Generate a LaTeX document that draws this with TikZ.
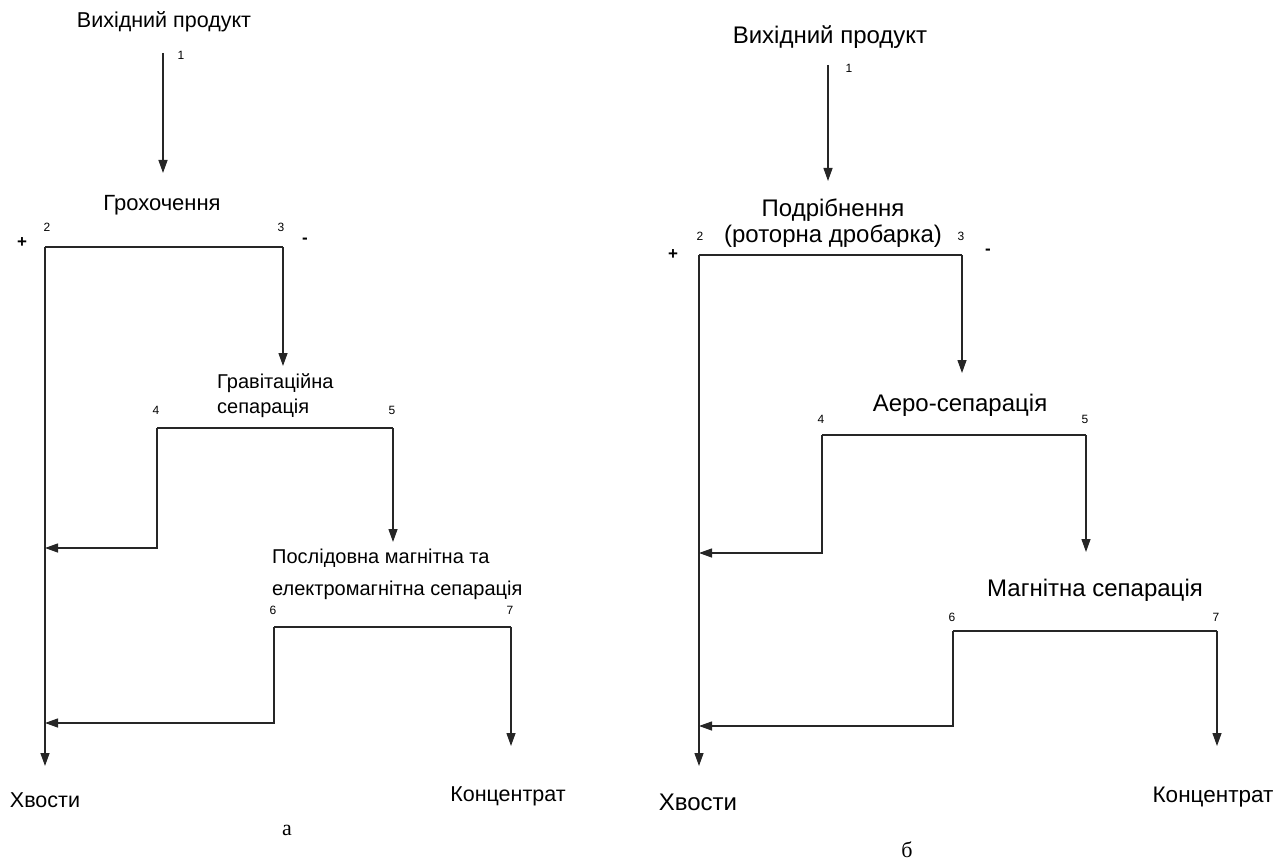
\documentclass[tikz,border=0pt]{standalone}
\usepackage{fontspec}
\setmainfont{Liberation Sans}
\newfontfamily\seriffam{Liberation Serif}
\usetikzlibrary{arrows.meta}
\begin{document}
\begin{tikzpicture}[x=1pt,y=-1pt,
  flow/.style={line width=1.3pt, draw=black!85},
  arr/.style={flow,-{Triangle[length=13pt,width=9pt]}},
  lbl/.style={font=\fontsize{21.5}{25}\selectfont, inner sep=0pt},
  lblb/.style={font=\fontsize{24}{26}\selectfont, inner sep=0pt},
  num/.style={font=\fontsize{12}{13}\selectfont, inner sep=0pt},
  sign/.style={font=\bfseries\fontsize{17}{19}\selectfont, inner sep=0pt},
  capt/.style={font=\seriffam\fontsize{22}{24}\selectfont, inner sep=0pt}]
\useasboundingbox (0,0) rectangle (1275,864);

% ---------------- Left diagram (a) ----------------
\node[lbl] (aIn) at (164,22) {Вихідний продукт};
\coordinate (a1s) at (163,53);
\coordinate (a1e) at (163,173);
\draw[arr] (a1s) -- (a1e);
\node[num] (an1) at (181,55) {1};
\node[lbl, font=\fontsize{22}{25}\selectfont] (aScr) at (162,205) {Грохочення};
\node[num] (an2) at (47,227) {2};
\node[num] (an3) at (281,227) {3};
\node[sign] (aplus) at (22,243) {+};
\node[sign] (aminus) at (305,241) {-};
\coordinate (a2) at (45,247);
\coordinate (a3) at (283,247);
\coordinate (aTail) at (45,766);
\coordinate (aGrTop) at (283,366);
\draw[flow] (a2) -- (a3);
\draw[arr] (a2) -- (aTail);
\draw[arr] (a3) -- (aGrTop);

\node[lbl, anchor=west, align=left, font=\fontsize{20}{25}\selectfont] (aGrav) at (217,396) {Гравітаційна\\сепарація};
\node[num] (an4) at (156,410) {4};
\node[num] (an5) at (392,410) {5};
\coordinate (a4) at (157,428);
\coordinate (a5) at (393,428);
\coordinate (a4b) at (157,548);
\coordinate (a4t) at (45,548);
\coordinate (a5e) at (393,542);
\draw[flow] (a4) -- (a5);
\draw[arr] (a4) -- (a4b) -- (a4t);
\draw[arr] (a5) -- (a5e);

\node[lbl, anchor=west, align=left, font=\fontsize{20}{32}\selectfont] (aMag) at (272,574) {Послідовна магнітна та\\електромагнітна сепарація};
\node[num] (an6) at (273,610) {6};
\node[num] (an7) at (510,610) {7};
\coordinate (a6) at (274,627);
\coordinate (a7) at (511,627);
\coordinate (a6b) at (274,723);
\coordinate (a6t) at (45,723);
\coordinate (a7e) at (511,746);
\draw[flow] (a6) -- (a7);
\draw[arr] (a6) -- (a6b) -- (a6t);
\draw[arr] (a7) -- (a7e);

\node[lbl] (aTails) at (45,800) {Хвости};
\node[lbl] (aConc) at (508,796) {Концентрат};
\node[capt] (acap) at (287,830) {а};

% ---------------- Right diagram (b) ----------------
\node[lblb] (bIn) at (830,37) {Вихідний продукт};
\coordinate (b1s) at (828,65);
\coordinate (b1e) at (828,181);
\draw[arr] (b1s) -- (b1e);
\node[num] (bn1) at (849,68) {1};
\node[lblb, align=center] (bCrush) at (833,223) {Подрібнення\\(роторна дробарка)};
\node[num] (bn2) at (700,236) {2};
\node[num] (bn3) at (961,236) {3};
\node[sign] (bplus) at (673,255) {+};
\node[sign] (bminus) at (988,252) {-};
\coordinate (b2) at (699,255);
\coordinate (b3) at (962,255);
\coordinate (bTail) at (699,766);
\coordinate (bAeTop) at (962,373);
\draw[flow] (b2) -- (b3);
\draw[arr] (b2) -- (bTail);
\draw[arr] (b3) -- (bAeTop);

\node[lblb] (bAero) at (960,405) {Аеро-сепарація};
\node[num] (bn4) at (821,419) {4};
\node[num] (bn5) at (1085,419) {5};
\coordinate (b4) at (822,435);
\coordinate (b5) at (1086,435);
\coordinate (b4b) at (822,553);
\coordinate (b4t) at (699,553);
\coordinate (b5e) at (1086,552);
\draw[flow] (b4) -- (b5);
\draw[arr] (b4) -- (b4b) -- (b4t);
\draw[arr] (b5) -- (b5e);

\node[lblb] (bMag) at (1095,590) {Магнітна сепарація};
\node[num] (bn6) at (952,617) {6};
\node[num] (bn7) at (1216,617) {7};
\coordinate (b6) at (953,631);
\coordinate (b7) at (1217,631);
\coordinate (b6b) at (953,726);
\coordinate (b6t) at (699,726);
\coordinate (b7e) at (1217,746);
\draw[flow] (b6) -- (b7);
\draw[arr] (b6) -- (b6b) -- (b6t);
\draw[arr] (b7) -- (b7e);

\node[lblb] (bTails) at (698,802) {Хвости};
\node[lblb, font=\fontsize{22.5}{26}\selectfont] (bConc) at (1213,797) {Концентрат};
\node[capt] (bcap) at (907,850) {б};
\end{tikzpicture}
\end{document}
